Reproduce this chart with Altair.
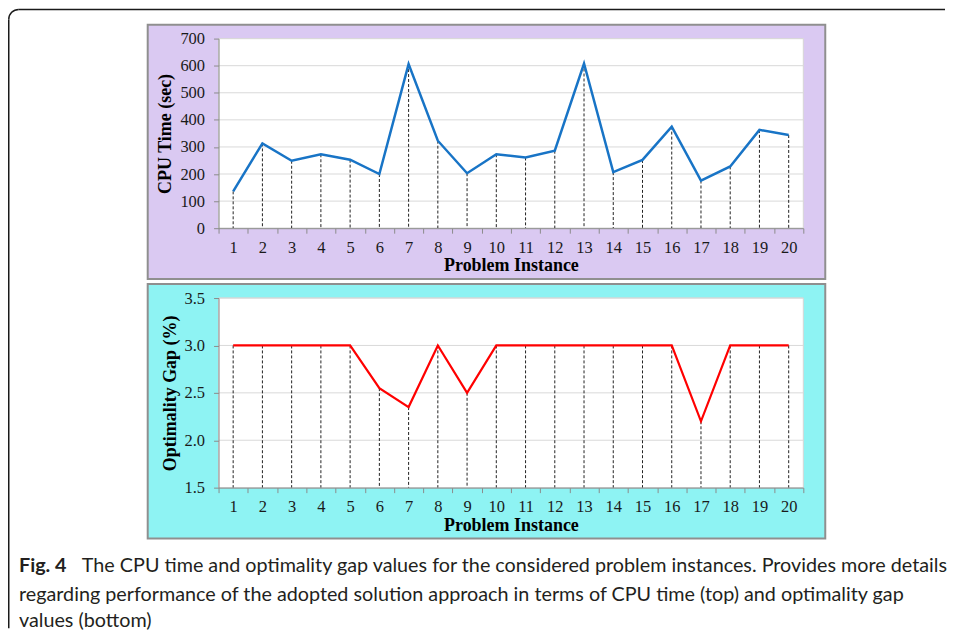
import altair as alt
import pandas as pd

# ---------------- data ----------------
INSTANCES = list(range(1, 21))
CPU_TIME = [136, 313, 249, 273, 253, 200, 606, 323, 203, 273,
            261, 286, 608, 207, 252, 375, 176, 228, 363, 344]
OPT_GAP = [3.0, 3.0, 3.0, 3.0, 3.0, 2.55, 2.35, 3.0, 2.5, 3.0,
           3.0, 3.0, 3.0, 3.0, 3.0, 3.0, 2.2, 3.0, 3.0, 3.0]
CPU_TICKS = [0, 100, 200, 300, 400, 500, 600, 700]
GAP_TICKS = [1.5, 2.0, 2.5, 3.0, 3.5]
X_TITLE = "Problem Instance"
CPU_TITLE = "CPU Time (sec)"
GAP_TITLE = "Optimality  Gap (%)"
CAPTION_BOLD = "Fig. 4"
CAPTION_LINES = [
    "The CPU time and optimality gap values for the considered problem instances. Provides more details",
    "regarding performance of the adopted solution approach in terms of CPU time (top) and optimality gap",
    "values (bottom)",
]

# ---------------- style ----------------
W, H = 586, 190
SERIF = "Liberation Serif"
SANS = "Lato"
AXIS_GRAY = "#8c8c8c"
GRID_GRAY = "#d9d9d9"
ONE = pd.DataFrame({"k": [0]})
LABEL_SIZE = 16.5
TITLE_SIZE = 18


def xenc():
    return alt.X(
        "inst:O",
        bandPosition=0.5,
        scale=alt.Scale(type="band", paddingInner=0, paddingOuter=0),
        axis=alt.Axis(
            title=X_TITLE, tickBand="extent", labelAngle=0,
            labelFont=SERIF, labelFontSize=LABEL_SIZE, labelColor="#1a1a1a", labelPadding=6,
            tickSize=5, tickColor=AXIS_GRAY, domainColor=AXIS_GRAY,
            titleFont=SERIF, titleFontSize=TITLE_SIZE, titleFontWeight="bold",
            titleColor="black", titlePadding=1, grid=False, zindex=1,
        ),
    )


def yenc(field, ticks, fmt, title):
    return alt.Y(
        field,
        scale=alt.Scale(domain=[ticks[0], ticks[-1]], nice=False, zero=False),
        axis=alt.Axis(
            title=title, values=ticks, format=fmt,
            labelFont=SERIF, labelFontSize=LABEL_SIZE, labelColor="#1a1a1a", labelPadding=9,
            tickSize=5, tickColor=AXIS_GRAY, domainColor=AXIS_GRAY,
            titleFont=SERIF, titleFontSize=TITLE_SIZE, titleFontWeight="bold",
            titleColor="black", titlePadding=5, grid=False, zindex=1,
        ),
    )


def panel(values, ticks, fmt, ytitle, color, bg, lw):
    df = pd.DataFrame({"inst": INSTANCES, "v": values})
    tdf = pd.DataFrame({"t": ticks})
    back = alt.Chart(ONE).mark_rect(fill=bg, stroke="#8f8f8f", strokeWidth=2).encode(
        x=alt.value(-71), x2=alt.value(608), y=alt.value(-14), y2=alt.value(241)
    )
    plot_bg = alt.Chart(ONE).mark_rect(fill="white", stroke="#d6d6d6", strokeWidth=1).encode(
        x=alt.value(0), x2=alt.value(W), y=alt.value(0), y2=alt.value(H)
    )
    grid = alt.Chart(tdf).mark_rule(color=GRID_GRAY, strokeWidth=1).encode(
        y=yenc("t:Q", ticks, fmt, ytitle)
    )
    drops = alt.Chart(df).mark_rule(color="#222222", strokeWidth=1, strokeDash=[3, 2]).encode(
        x=xenc(), y=yenc("v:Q", ticks, fmt, ytitle), y2=alt.datum(ticks[0])
    )
    line = alt.Chart(df).mark_line(color=color, strokeWidth=lw).encode(
        x=xenc(), y=yenc("v:Q", ticks, fmt, ytitle)
    )
    return [back, plot_bg, grid, drops, line]


top_layers = panel(CPU_TIME, CPU_TICKS, "d", CPU_TITLE, "#1874c6", "#dac9f2", 2.5)
bot_layers = panel(OPT_GAP, GAP_TICKS, ".1f", GAP_TITLE, "#ff0000", "#8ef3f3", 2.2)

# outer frame (top-left rounded corner) and caption, positioned relative to top plot area
FRAME = "#1a1a1a"
frame_top = alt.Chart(ONE).mark_rule(color=FRAME, strokeWidth=1.5).encode(
    x=alt.value(-200.25), x2=alt.value(728), y=alt.value(-29.25)
)
frame_left = alt.Chart(ONE).mark_rule(color=FRAME, strokeWidth=1.5).encode(
    x=alt.value(-210.25), y=alt.value(-19.25), y2=alt.value(591)
)
frame_arc = alt.Chart(ONE).mark_arc(
    innerRadius=9.25, outerRadius=10.75, theta=4.712389, theta2=6.283185, color=FRAME
).encode(x=alt.value(-200.25), y=alt.value(-19.25))

CAP_SIZE = 19.8
cap_bold = alt.Chart(ONE).mark_text(
    align="left", baseline="middle", font=SANS, fontSize=CAP_SIZE, fontWeight="bold", color="#231f20"
).encode(x=alt.value(-200), y=alt.value(529), text=alt.value(CAPTION_BOLD))
cap_ys = [529, 558, 584]
cap_xs = [-137, -200, -200]
cap_layers = [
    alt.Chart(ONE).mark_text(
        align="left", baseline="middle", font=SANS, fontSize=CAP_SIZE, color="#231f20"
    ).encode(x=alt.value(cx), y=alt.value(cy), text=alt.value(txt))
    for txt, cx, cy in zip(CAPTION_LINES, cap_xs, cap_ys)
]

top = alt.layer(*top_layers, frame_top, frame_left, frame_arc, cap_bold, *cap_layers).properties(
    width=W, height=H
)
bottom = alt.layer(*bot_layers).properties(width=W, height=H)

chart = (
    alt.vconcat(top, bottom, spacing=70, bounds="flush")
    .properties(padding=0, background="white")
    .configure_view(stroke=None)
)

chart.save("out.html", embed_options={"renderer": "svg", "actions": False})
